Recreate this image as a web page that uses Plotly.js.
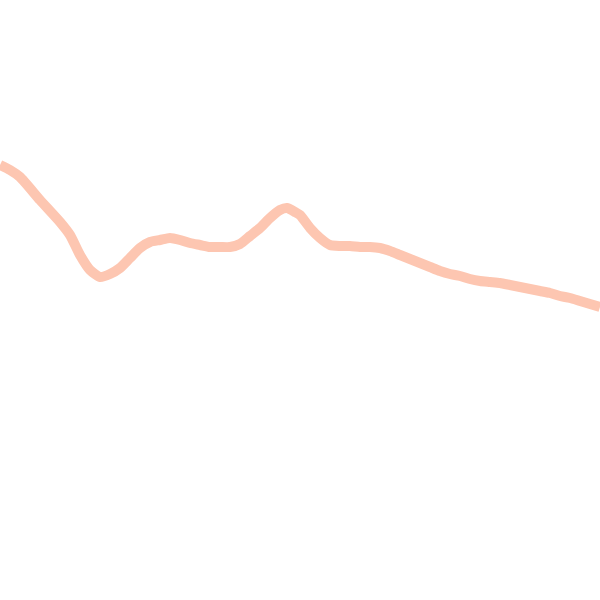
<!DOCTYPE html>
<html>
<head>
<meta charset="utf-8">
<script src="https://cdn.plot.ly/plotly-3.0.1.min.js"></script>
<style>
  html, body { margin: 0; padding: 0; background: #fff; }
  #plot { width: 600px; height: 600px; }
</style>
</head>
<body>
<div id="plot"></div>
<script>
// values (height above the bottom edge)
var steps = [0, 1, 2, 4, 6, 7, 8, 9, 10, 11, 12, 13, 14, 15, 16, 17, 18, 19, 20, 21, 22, 23, 24, 25, 26, 27, 28, 28.7, 29.5, 30, 31, 32, 33, 34, 35, 36, 37, 38, 39, 40, 41, 42, 43, 44, 45, 46, 47, 48, 49, 50, 51, 52, 53, 54, 55, 56, 57, 58, 59, 60];
var level = [435, 430, 423, 400, 378, 365, 345, 330, 323, 326, 332, 342, 352, 358, 360, 362, 360, 357, 355, 353, 353, 353, 356, 364, 372, 382, 390, 392, 388, 385, 372, 362, 355, 354, 354, 353, 353, 352, 349, 345, 341, 337, 333, 329, 326, 324, 321, 319, 318, 317, 315, 313, 311, 309, 307, 304, 302, 299, 296, 293];

var trace = {
  type: "scatter",
  mode: "lines",
  x: steps,
  y: level,
  line: {color: '#fdc6b1', width: 10, shape: 'spline', smoothing: 0.6},
  hoverinfo: 'skip'
};

var layout = {
  width: 600,
  height: 600,
  margin: {l: 0, r: 0, t: 0, b: 0},
  paper_bgcolor: '#ffffff',
  plot_bgcolor: '#ffffff',
  showlegend: false,
  xaxis: {range: [0, 60], visible: false, fixedrange: true},
  yaxis: {range: [0, 600], visible: false, fixedrange: true}
};

Plotly.newPlot('plot', [trace], layout, {staticPlot: true, displayModeBar: false});
</script>
</body>
</html>
